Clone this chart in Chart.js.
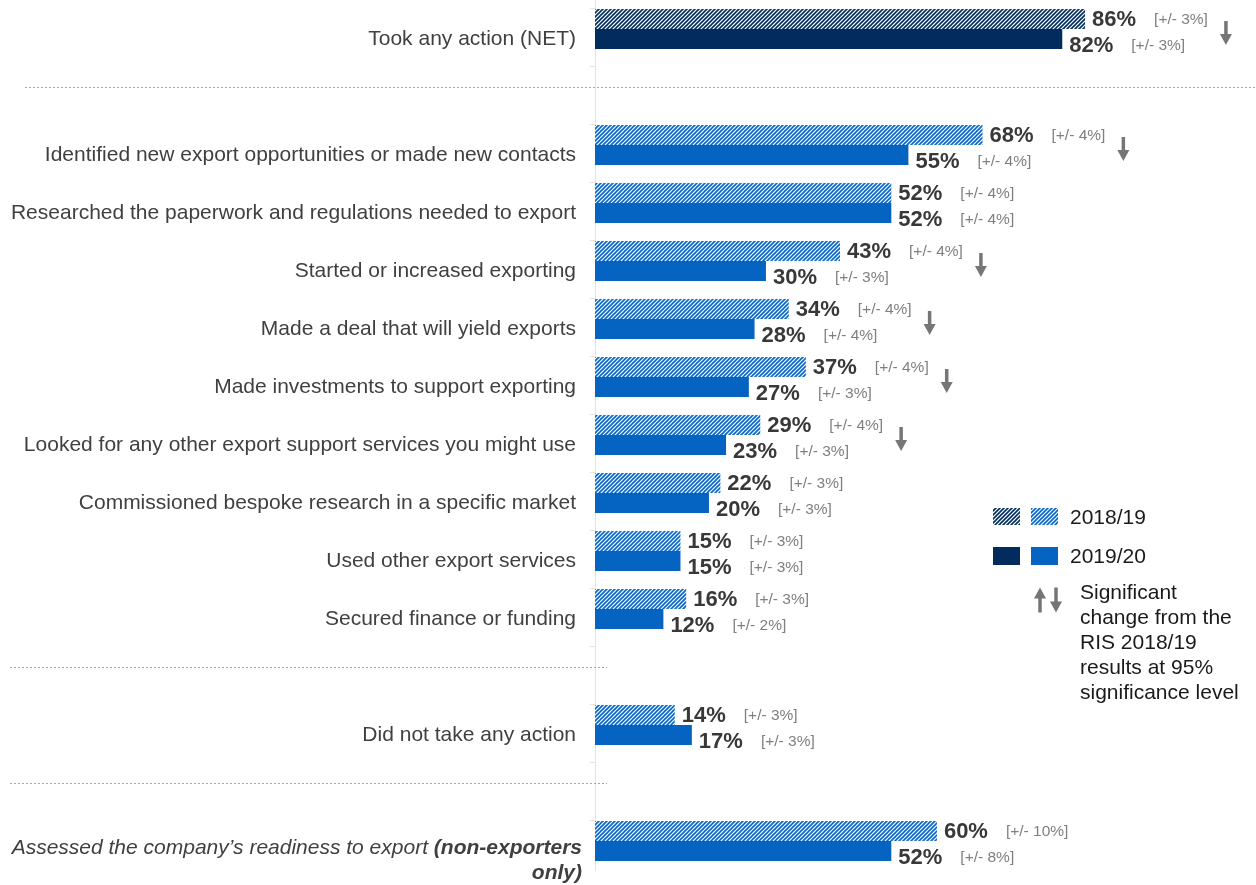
<!DOCTYPE html>
<html>
<head>
<meta charset="utf-8">
<script src="https://cdn.jsdelivr.net/npm/chart.js@4"></script>
<style>
  body { margin: 0; background: #fff; }
  canvas { display: block; }
</style>
</head>
<body>
<canvas id="actionsChart" width="1256" height="885"></canvas>
<script>
// Actions taken, RIS 2018/19 vs 2019/20 (empty labels are spacer rows)
const categories = [
    'Took any action (NET)',
    '',
    'Identified new export opportunities or made new contacts',
    'Researched the paperwork and regulations needed to export',
    'Started or increased exporting',
    'Made a deal that will yield exports',
    'Made investments to support exporting',
    'Looked for any other export support services you might use',
    'Commissioned bespoke research in a specific market',
    'Used other export services',
    'Secured finance or funding',
    '',
    'Did not take any action',
    '',
    'Assessed the company’s readiness to export (non-exporters only)'
];
const values2018 = [86, null, 68, 52, 43, 34, 37, 29, 22, 15, 16, null, 14, null, 60];
const values2019 = [82, null, 55, 52, 30, 28, 27, 23, 20, 15, 12, null, 17, null, 52];
const margin2018 = [3, null, 4, 4, 4, 4, 4, 4, 3, 3, 3, null, 3, null, 10];
const margin2019 = [3, null, 4, 4, 3, 4, 3, 3, 3, 3, 2, null, 3, null, 8];
// significant change flags: 'down' / 'up' / null
const significance = ['down', null, 'down', null, 'down', 'down', 'down', 'down', null, null, null, null, null, null, null];

const NAVY = '#022b5e';
const BLUE = '#0563c1';
const FONT = '"Liberation Sans", Arial, sans-serif';

function hatch(color) {
    const c = document.createElement('canvas');
    c.width = 4; c.height = 4;
    const g = c.getContext('2d');
    g.fillStyle = '#fff';
    g.fillRect(0, 0, 4, 4);
    g.strokeStyle = color;
    g.lineWidth = 1.6;
    g.beginPath();
    g.moveTo(0, 4); g.lineTo(4, 0);
    g.moveTo(-1, 1); g.lineTo(1, -1);
    g.moveTo(3, 5); g.lineTo(5, 3);
    g.stroke();
    return g.createPattern(c, 'repeat');
}
const hatchNavy = hatch(NAVY);
const hatchBlue = hatch(BLUE);

function arrow(ctx, x, yMid, dir, len) {
    const top = yMid - len / 2, bot = yMid + len / 2;
    ctx.save();
    ctx.fillStyle = '#767676';
    ctx.strokeStyle = '#767676';
    ctx.lineWidth = 3.5;
    ctx.beginPath();
    if (dir === 'down') {
        ctx.moveTo(x, top); ctx.lineTo(x, bot - 8);
        ctx.stroke();
        ctx.beginPath();
        ctx.moveTo(x - 6, bot - 11); ctx.lineTo(x + 6, bot - 11); ctx.lineTo(x, bot);
    } else {
        ctx.moveTo(x, bot); ctx.lineTo(x, top + 8);
        ctx.stroke();
        ctx.beginPath();
        ctx.moveTo(x - 6, top + 11); ctx.lineTo(x + 6, top + 11); ctx.lineTo(x, top);
    }
    ctx.closePath();
    ctx.fill();
    ctx.restore();
}

const decorations = {
    id: 'decorations',
    afterDatasetsDraw(chart) {
        const ctx = chart.ctx;
        const y = chart.scales.y;
        const left = chart.chartArea.left;
        ctx.save();

        // small tick marks on the category axis
        ctx.strokeStyle = '#e3e3e3';
        ctx.lineWidth = 1;
        categories.forEach((c, i) => {
            const ty = Math.round(y.getPixelForTick(i) - 21) + 0.5;
            ctx.beginPath();
            ctx.moveTo(left - 5, ty);
            ctx.lineTo(left, ty);
            ctx.stroke();
        });

        // dashed separators on the spacer rows
        ctx.strokeStyle = '#a6a6a6';
        ctx.setLineDash([2, 2]);
        categories.forEach((c, i) => {
            if (c !== '') return;
            const sy = Math.round(y.getPixelForTick(i)) + 0.5;
            ctx.beginPath();
            if (i === 1) { ctx.moveTo(25, sy); ctx.lineTo(1256, sy); }
            else { ctx.moveTo(10, sy); ctx.lineTo(607, sy); }
            ctx.stroke();
        });
        ctx.setLineDash([]);

        // category labels, level with the 2019/20 bar
        ctx.fillStyle = '#404040';
        ctx.textBaseline = 'middle';
        categories.forEach((c, i) => {
            if (c === '') return;
            const cy = y.getPixelForTick(i);
            if (i === categories.length - 1) {
                const plain = 'Assessed the company’s readiness to export ';
                const strong = '(non-exporters';
                ctx.font = 'italic bold 21px ' + FONT;
                const wStrong = ctx.measureText(strong).width;
                ctx.textAlign = 'right';
                ctx.fillText(strong, 582, cy + 7);
                ctx.fillText('only)', 582, cy + 32);
                ctx.font = 'italic 21px ' + FONT;
                ctx.fillText(plain, 582 - wStrong, cy + 7);
            } else {
                ctx.font = '21px ' + FONT;
                ctx.textAlign = 'right';
                ctx.fillText(c, 576, cy + 10);
            }
        });

        // value labels, margins of error and significance arrows
        const m18 = chart.getDatasetMeta(0).data;
        const m19 = chart.getDatasetMeta(1).data;
        ctx.textAlign = 'left';
        categories.forEach((c, i) => {
            if (values2018[i] == null) return;
            const ends = [];
            [[m18[i], values2018[i], margin2018[i], 1], [m19[i], values2019[i], margin2019[i], 7]].forEach(([bar, v, m, dy]) => {
                const tx = bar.x + 7;
                const ty = bar.y + dy;
                ctx.font = 'bold 22px ' + FONT;
                ctx.fillStyle = '#383838';
                const label = v + '%';
                ctx.fillText(label, tx, ty);
                const bx = tx + ctx.measureText(label).width + 18;
                ctx.font = '15.5px ' + FONT;
                ctx.fillStyle = '#7f7f7f';
                const mt = '[+/- ' + m + '%]';
                ctx.fillText(mt, bx, ty);
                ends.push(bx + ctx.measureText(mt).width);
            });
            if (significance[i]) {
                arrow(ctx, Math.max(...ends) + 18, y.getPixelForTick(i) + 4, significance[i], 24);
            }
        });

        // legend
        ctx.fillStyle = hatchNavy; ctx.fillRect(993, 508, 27, 17);
        ctx.fillStyle = hatchBlue; ctx.fillRect(1031, 508, 27, 17);
        ctx.fillStyle = NAVY; ctx.fillRect(993, 547, 27, 18);
        ctx.fillStyle = BLUE; ctx.fillRect(1031, 547, 27, 18);
        ctx.fillStyle = '#1a1a1a';
        ctx.font = '21px ' + FONT;
        ctx.fillText('2018/19', 1070, 518);
        ctx.fillText('2019/20', 1070, 557);
        arrow(ctx, 1040, 600, 'up', 25);
        arrow(ctx, 1056, 600, 'down', 25);
        ['Significant', 'change from the', 'RIS 2018/19', 'results at 95%', 'significance level']
            .forEach((t, k) => ctx.fillText(t, 1080, 593 + k * 25));

        ctx.restore();
    }
};

const ctxBars = document.getElementById('actionsChart').getContext('2d');
const actionsChart = new Chart(ctxBars, {
    type: 'bar',
    data: {
        labels: categories,
        datasets: [{
            label: '2018/19',
            data: values2018,
            backgroundColor: categories.map((c, i) => i === 0 ? hatchNavy : hatchBlue)
        }, {
            label: '2019/20',
            data: values2019,
            backgroundColor: categories.map((c, i) => i === 0 ? NAVY : BLUE)
        }]
    },
    options: {
        indexAxis: 'y',
        responsive: false,
        animation: false,
        layout: {
            padding: { top: 0, bottom: 15, left: 0, right: 0 }
        },
        datasets: {
            bar: {
                categoryPercentage: 0.69,
                barPercentage: 1.0
            }
        },
        plugins: {
            legend: { display: false },
            tooltip: { enabled: false }
        },
        scales: {
            x: {
                display: false,
                min: 0,
                max: 116
            },
            y: {
                ticks: { display: false },
                grid: { display: false },
                border: { display: true, color: '#e3e3e3' },
                afterFit: (scale) => { scale.width = 595; }
            }
        }
    },
    plugins: [decorations]
});
</script>
</body>
</html>
